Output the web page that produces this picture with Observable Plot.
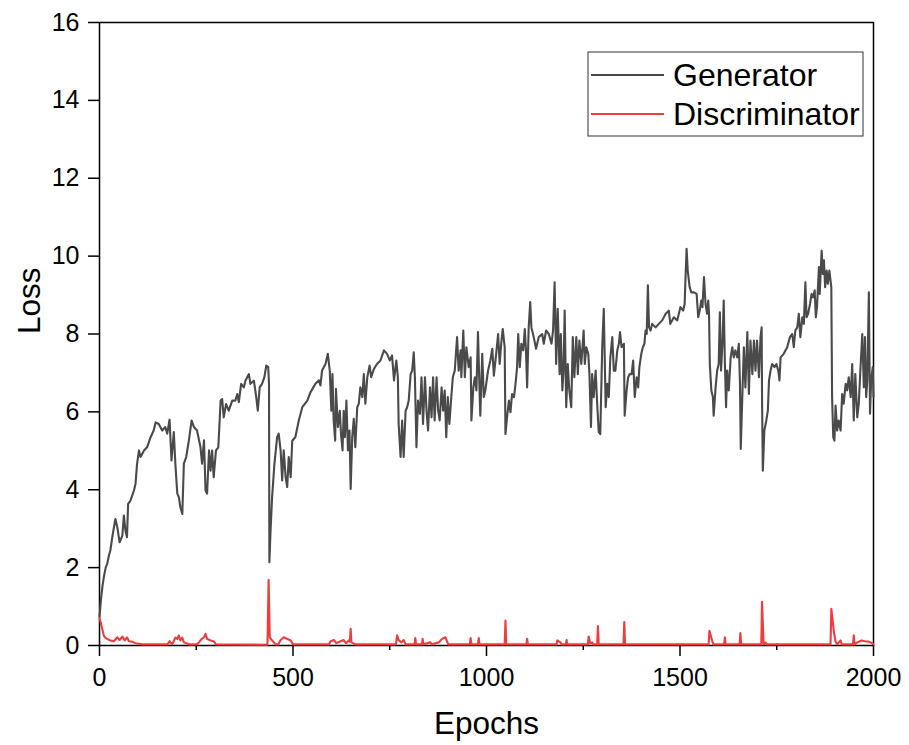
<!DOCTYPE html>
<html><head><meta charset="utf-8">
<script src="https://cdn.jsdelivr.net/npm/d3@7"></script>
<script src="https://cdn.jsdelivr.net/npm/@observablehq/plot@0.6"></script>
<style>body{margin:0;background:#fff;} #chart{width:909px;height:745px;}</style>
</head><body><div id="chart"></div>
<script>
const genEpoch = [0,4,8,12,16,20,24,28,33,41,46,52,59,63,67,71,74,80,89,93,97,102,106,115,123,132,140,145,153,162,170,175,181,186,192,196,201,205,209,214,218,224,231,238,244,252,261,265,270,274,278,283,287,291,295,301,307,313,317,321,327,334,343,351,356,360,366,373,377,386,390,399,405,409,414,420,426,431,436,438,439,442,446,452,459,463,468,472,476,481,485,489,494,498,506,515,524,537,545,558,
567,571,575,584,590,595,599,602,605,609,611,616,621,624,628,631,634,638,642,646,649,653,657,661,666,670,674,679,683,687,692,698,702,709,717,726,735,743,750,756,761,767,771,773,778,782,786,791,795,799,804,808,812,815,819,823,828,832,836,841,845,849,854,858,862,866,871,875,879,884,888,892,896,900,904,909,913,918,924,928,933,935,940,944,948,954,959,961,966,970,974,978,982,984,989,993,
997,1004,1010,1015,1019,1025,1030,1034,1038,1042,1047,1049,1053,1058,1062,1066,1071,1075,1079,1082,1086,1090,1095,1099,1102,1105,1109,1113,1116,1122,1128,1135,1144,1148,1154,1161,1168,1172,1176,1180,1184,1189,1192,1196,1199,1202,1206,1210,1214,1219,1223,1227,1232,1236,1240,1245,1251,1254,1258,1263,1266,1270,1273,1277,1282,1286,1290,1294,1299,1303,1308,1312,1316,1320,1325,1329,1333,1338,1342,1345,1349,1355,1357,1362,1366,1370,1375,1379,1383,1388,1392,1395,1400,1404,1408,1411,1414,1417,1420,1424,1428,1437,1445,1454,1463,1471,1475,1484,1493,
1501,1508,1512,1514,1517,1520,1525,1529,1536,1543,1547,1551,1555,1558,1562,1566,1570,1573,1575,1577,1581,1585,1587,1592,1596,1600,1603,1606,1610,1613,1616,1619,1622,1626,1631,1635,1639,1643,1648,1652,1655,1657,1661,1665,1669,1674,1678,1682,1687,1691,1695,1699,1704,1708,1711,1712,1714,1718,1723,1727,1730,1734,1738,1744,1749,1754,1757,1760,1768,1777,1784,1790,1794,1798,1803,1807,1811,1816,1820,1824,1827,1831,1836,1840,1844,1848,1851,1854,1859,1861,1866,1869,1872,1875,1879,1882,1886,1891,1893,1896,1899,1902,1906,1910,1915,1919,1923,1928,1932,1936,1941,1945,1949,1953,1958,1962,1966,1971,1975,1978,1981,1984,1988,1991,1994,1998,2000];
const genLoss = [0.75,1.2,1.55,1.8,2.0,2.1,2.3,2.44,2.78,3.25,3.04,2.65,2.82,3.34,2.95,2.78,3.64,3.72,3.98,4.15,4.66,5.01,4.84,5.01,5.09,5.35,5.52,5.73,5.69,5.52,5.61,5.44,5.8,4.75,5.48,4.67,3.9,3.81,3.55,3.38,4.67,4.84,5.27,5.78,5.61,5.52,5.09,4.67,5.27,3.98,3.9,5.01,4.49,5.01,4.32,5.01,5.09,6.29,6.33,5.86,6.2,6.03,6.29,6.29,6.46,6.25,6.72,6.63,6.8,6.97,6.72,6.8,6.38,6.03,6.63,6.72,6.89,7.19,7.15,6.72,2.14,2.95,3.81,4.66,5.35,5.44,5.01,4.24,5.01,4.32,4.07,4.84,4.32,5.26,5.35,5.78,6.12,6.29,6.5,6.72,
6.81,6.68,7.06,7.23,7.49,7.06,6.03,6.97,5.78,5.26,6.59,5.61,6.03,5.43,5.01,6.03,5.35,6.29,5.01,5.52,4.02,5.35,5.82,5.09,6.12,6.21,6.63,6.38,6.97,6.21,6.89,7.19,6.89,7.1,7.23,7.32,7.58,7.49,7.32,7.45,6.81,7.32,6.89,5.69,4.84,5.78,4.84,6.03,6.12,6.29,6.97,7.06,7.53,6.89,5.09,6.29,5.95,6.89,5.69,6.89,6.03,5.52,6.63,5.86,6.89,5.78,6.89,6.03,5.78,6.63,6.03,6.55,5.35,6.38,5.69,6.38,6.89,7.06,7.92,7.06,7.58,6.89,8.09,6.89,7.66,7.15,7.4,5.78,6.63,6.89,6.55,8.05,6.55,5.9,7.49,6.38,
6.55,7.06,7.32,7.62,6.93,7.49,8.0,7.23,7.75,8.13,7.66,5.43,5.86,6.29,5.99,6.46,6.38,6.72,7.15,8.0,7.15,7.75,7.58,8.13,7.58,6.63,8.17,8.82,8.17,7.92,7.62,7.92,8.0,7.75,8.09,8.0,7.75,8.09,9.33,7.23,8.65,6.97,8.0,6.55,7.06,8.6,6.12,7.23,6.55,6.12,7.92,6.89,7.92,6.97,7.83,7.23,8.09,7.23,7.66,7.49,6.97,5.61,6.97,6.38,7.06,6.21,5.48,5.43,7.66,8.65,6.12,6.72,6.38,7.4,7.92,7.06,7.06,7.58,7.75,8.05,7.66,7.75,5.9,6.55,6.89,6.97,6.97,7.32,6.38,6.89,6.63,7.15,7.49,7.66,7.75,8.09,8.0,9.25,8.17,8.09,8.26,8.17,8.26,8.35,8.52,8.6,8.26,8.43,8.35,
8.69,8.6,8.77,9.37,10.19,9.63,9.2,9.07,9.07,9.03,8.43,8.6,8.86,8.69,9.46,8.77,8.52,8.86,8.52,7.23,6.55,6.38,5.9,6.63,7.06,7.23,8.56,7.06,7.83,8.86,7.23,6.12,7.06,6.55,7.4,7.66,7.4,7.58,7.4,7.75,6.72,5.05,6.38,7.66,6.63,8.05,6.46,7.83,6.97,7.83,7.06,7.83,6.89,7.92,8.17,6.38,4.49,5.52,5.78,6.03,6.81,7.06,7.23,7.15,7.23,7.06,6.81,7.4,7.49,7.66,7.92,8.0,7.66,8.09,8.17,8.52,7.92,8.43,8.26,9.33,8.43,8.52,8.77,9.03,8.94,9.12,8.43,8.69,9.72,9.03,10.14,9.54,9.89,9.2,9.63,9.29,9.63,9.2,6.38,5.35,5.26,6.16,5.52,5.78,5.52,6.46,6.21,6.72,6.55,6.89,6.38,7.23,5.78,6.97,5.86,6.21,7.06,8.0,6.63,7.92,6.38,6.81,9.07,5.95,6.81,7.15,6.38];

const disEpoch = [0,3,7,11,15,20,28,37,46,52,59,65,71,76,84,93,110,176,181,188,196,201,205,209,214,218,231,252,257,264,270,274,278,287,295,301,434,437,440,446,455,462,468,476,485,494,500,593,597,606,612,623,631,637,644,647,649,651,661,766,769,773,780,786,791,814,816,818,833,835,837,855,858,877,885,894,901,957,959,961,978,980,982,1047,1049,1051,1103,1105,1107,1181,1183,1191,1194,1205,1207,1209,1262,1264,1268,1273,1276,1286,1288,1290,1354,1356,1358,1574,1576,1583,1586,1614,1616,1618,1654,1656,1658,1710,1712,1716,1721,1724,1889,1891,1898,1902,1906,1915,1918,1947,1949,1951,1958,1969,1978,1988,1996,2000];
const disLoss = [0.7,0.6,0.43,0.26,0.2,0.17,0.13,0.11,0.21,0.14,0.23,0.13,0.21,0.11,0.1,0.06,0.03,0.03,0.11,0.03,0.2,0.17,0.26,0.13,0.2,0.08,0.03,0.03,0.08,0.17,0.21,0.3,0.17,0.13,0.11,0.03,0.02,1.69,0.21,0.13,0.03,0.03,0.14,0.21,0.17,0.13,0.03,0.03,0.11,0.14,0.06,0.11,0.14,0.06,0.13,0.1,0.43,0.08,0.03,0.03,0.26,0.14,0.08,0.14,0.03,0.03,0.19,0.03,0.03,0.17,0.03,0.08,0.03,0.08,0.17,0.21,0.03,0.03,0.19,0.03,0.03,0.19,0.03,0.03,0.64,0.03,0.03,0.17,0.03,0.03,0.13,0.08,0.03,0.03,0.14,0.03,0.03,0.23,0.05,0.08,0.03,0.03,0.5,0.03,0.03,0.6,0.03,0.03,0.38,0.13,0.03,0.03,0.21,0.03,0.03,0.32,0.03,0.03,1.12,0.03,0.08,0.03,0.03,0.94,0.32,0.1,0.03,0.13,0.03,0.03,0.26,0.03,0.08,0.13,0.11,0.1,0.06,0.03];

const xTicks = [0, 500, 1000, 1500, 2000];
const xMinorTicks = [250, 750, 1250, 1750];
const yTicks = [0, 2, 4, 6, 8, 10, 12, 14, 16];
const seriesNames = ["Generator", "Discriminator"];
const seriesColors = ["#4a4a4a", "#f03c3c"];
const xLabel = "Epochs";
const yLabel = "Loss";

const gen = genEpoch.map((e, i) => ({epoch: e, loss: genLoss[i]}));
const dis = disEpoch.map((e, i) => ({epoch: e, loss: disLoss[i]}));

const plot = Plot.plot({
  width: 909,
  height: 745,
  marginLeft: 99,
  marginRight: 36,
  marginTop: 22,
  marginBottom: 100,
  style: {fontFamily: "'Liberation Sans', Arial, sans-serif", background: "#fff", color: "#000", overflow: "visible"},
  x: {domain: [0, 2000]},
  y: {domain: [0, 16]},
  marks: [
    Plot.axisX(xTicks, {tickSize: 11, tickPadding: 12, fontSize: 25, strokeWidth: 1.5, label: null, tickFormat: d => String(d)}),
    Plot.axisX(xMinorTicks, {tickSize: 5, strokeWidth: 1.5, tickFormat: () => "", label: null}),
    Plot.axisY(yTicks, {tickSize: 11, tickPadding: 9, fontSize: 25, strokeWidth: 1.5, label: null, tickFormat: d => String(d)}),
    Plot.frame({stroke: "black", strokeWidth: 1.5}),
    Plot.line(gen, {x: "epoch", y: "loss", stroke: seriesColors[0], strokeWidth: 2.1}),
    Plot.line(dis, {x: "epoch", y: "loss", stroke: seriesColors[1], strokeWidth: 2.1}),
    Plot.text([xLabel], {frameAnchor: "bottom", dy: 78, fontSize: 31.5, lineAnchor: "middle"}),
    Plot.text([yLabel], {frameAnchor: "left", dx: -70, rotate: -90, fontSize: 31.5, lineAnchor: "middle"})
  ]
});

const svg = d3.select(plot);
const lg = svg.append("g").attr("font-size", 32).attr("text-anchor", "start");
lg.append("rect").attr("x", 588).attr("y", 52).attr("width", 275).attr("height", 84)
  .attr("fill", "white").attr("stroke", "#333").attr("stroke-width", 1);
seriesNames.forEach((name, i) => {
  const y = 75 + i * 39;
  lg.append("line").attr("x1", 591).attr("x2", 664).attr("y1", y).attr("y2", y)
    .attr("stroke", seriesColors[i]).attr("stroke-width", 1.8);
  lg.append("text").attr("x", 673).attr("y", y).attr("dy", "0.35em").attr("fill", "#000")
    .attr("text-anchor", "start").text(name);
});

document.getElementById("chart").appendChild(plot);
</script>
</body></html>
